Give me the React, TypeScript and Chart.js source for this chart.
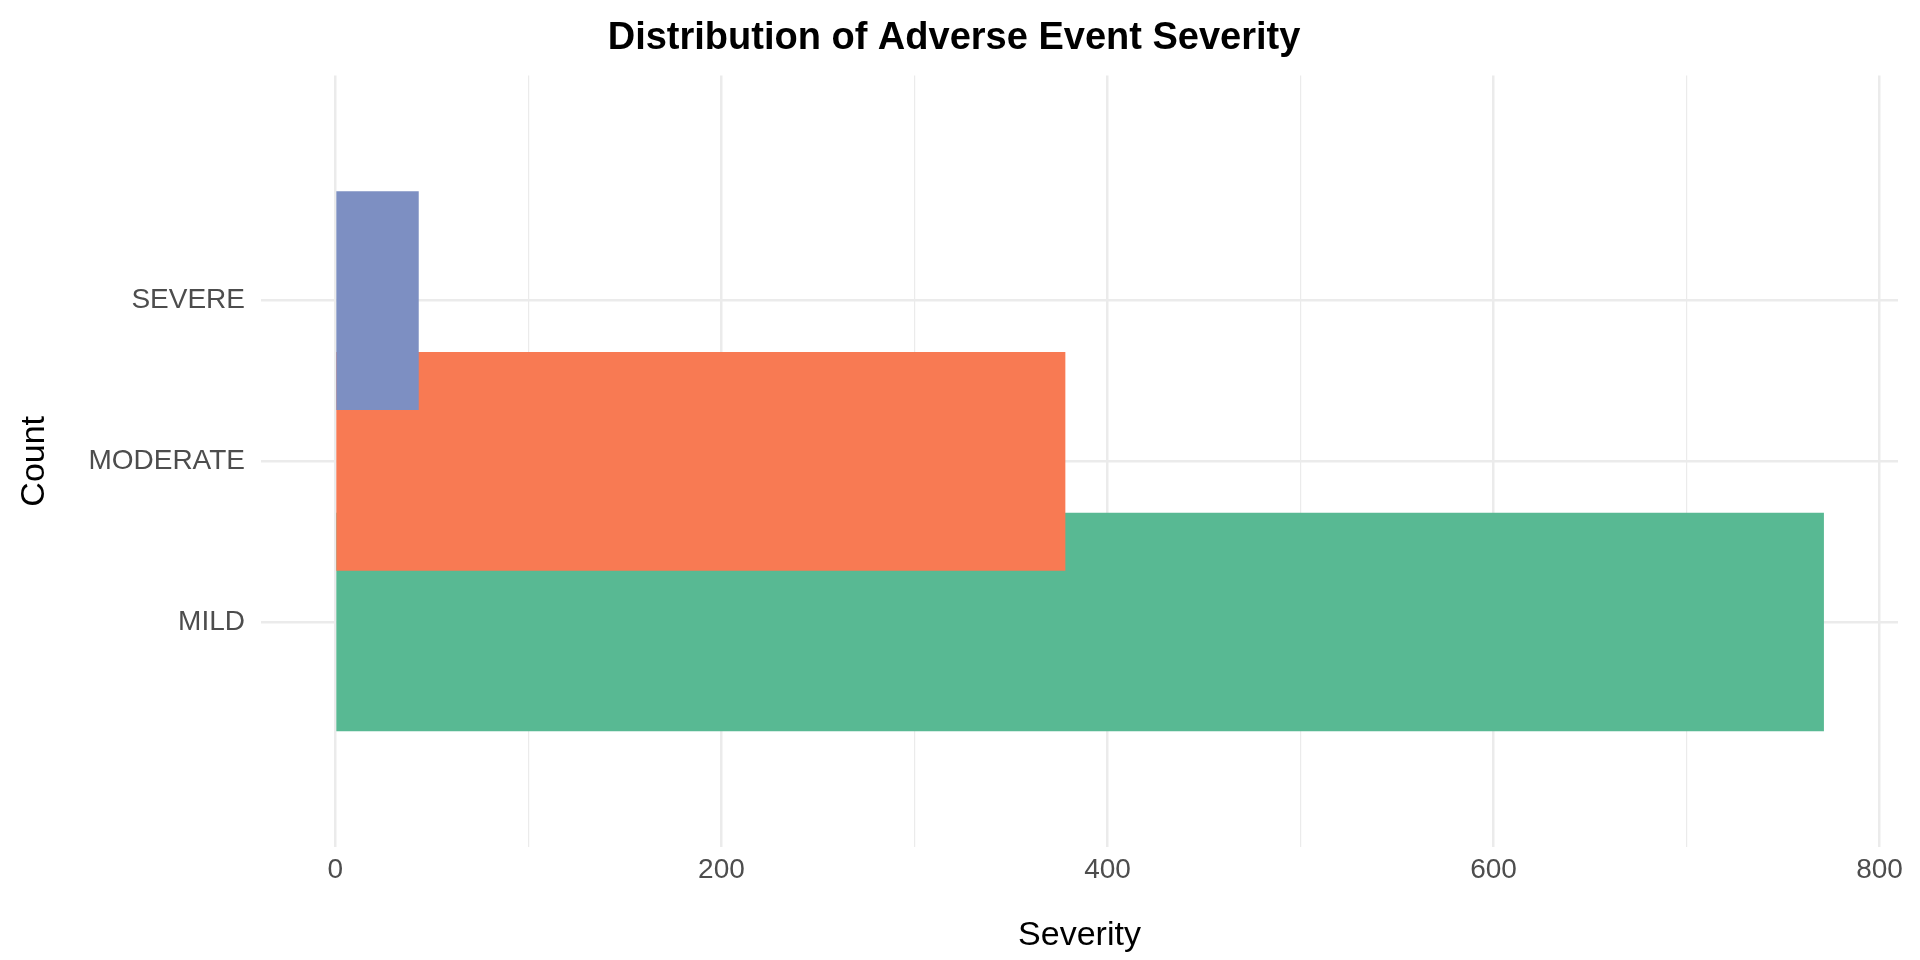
import { useEffect, useRef } from "react";
import { Chart, registerables } from "chart.js";

Chart.register(...registerables);

const categories = ["MILD", "MODERATE", "SEVERE"];
const counts = [771, 378, 43];
const barColors = ["#58b993", "#f87a53", "#7d8fc2"];
const xTicks = [0, 100, 200, 300, 400, 500, 600, 700, 800];

export default function App() {
  const chartRef = useRef<HTMLCanvasElement>(null);
  const chartInstance = useRef<Chart | null>(null);

  useEffect(() => {
    if (!chartRef.current) return;
    if (chartInstance.current) chartInstance.current.destroy();
    const ctx = chartRef.current.getContext("2d");
    if (!ctx) return;

    const font = "Liberation Sans, Arial, sans-serif";
    chartInstance.current = new Chart(ctx, {
      type: "bar",
      data: {
        datasets: [
          {
            data: counts.map((c, i) => ({ x: c, y: i })),
            backgroundColor: barColors,
            barThickness: 218,
          },
        ],
      },
      options: {
        indexAxis: "y",
        animation: false,
        responsive: false,
        layout: { padding: { right: 22, left: 10 } },
        plugins: {
          legend: { display: false },
          tooltip: { enabled: false },
          title: {
            display: true,
            text: "Distribution of Adverse Event Severity",
            color: "#000",
            font: { family: font, size: 38, weight: "bold" },
            padding: { top: 16, bottom: 14 },
          },
        },
        scales: {
          x: {
            type: "linear",
            min: -38.55,
            max: 809.55,
            afterBuildTicks: (s: any) => {
              s.ticks = xTicks.map((v) => ({ value: v }));
            },
            afterFit: (s: any) => {
              s.height = 113;
            },
            border: { display: false },
            grid: {
              color: "#ebebeb",
              offset: false,
              lineWidth: (c: any) => (c.tick && c.tick.value % 200 === 0 ? 2.5 : 1.2),
              drawTicks: false,
            },
            ticks: {
              color: "#4d4d4d",
              padding: 6,
              font: { family: font, size: 28 },
              callback: (v: any) => (Number(v) % 200 === 0 ? String(v) : ""),
            },
            title: {
              display: true,
              text: "Severity",
              color: "#000",
              font: { family: font, size: 34 },
              padding: { top: 2 },
            },
          },
          y: {
            type: "linear",
            min: -0.6,
            max: 2.6,
            afterBuildTicks: (s: any) => {
              s.ticks = categories.map((_, i) => ({ value: i }));
            },
            afterFit: (s: any) => {
              s.width = 251;
            },
            border: { display: false },
            grid: { color: "#ebebeb", lineWidth: 2.5, drawTicks: false, offset: false },
            ticks: {
              color: "#4d4d4d",
              padding: 16,
              font: { family: font, size: 28 },
              callback: (v: any) => categories[Number(v)] ?? "",
            },
            title: {
              display: true,
              text: "Count",
              color: "#000",
              font: { family: font, size: 34 },
              padding: { bottom: 0 },
            },
          },
        },
      },
    });

    return () => {
      if (chartInstance.current) {
        chartInstance.current.destroy();
        chartInstance.current = null;
      }
    };
  }, []);

  return (
    <div style={{ position: "fixed", left: 0, top: 0, width: 1920, height: 960, background: "#fff" }}>
      <canvas ref={chartRef} width={1920} height={960} style={{ width: 1920, height: 960 }} />
    </div>
  );
}
